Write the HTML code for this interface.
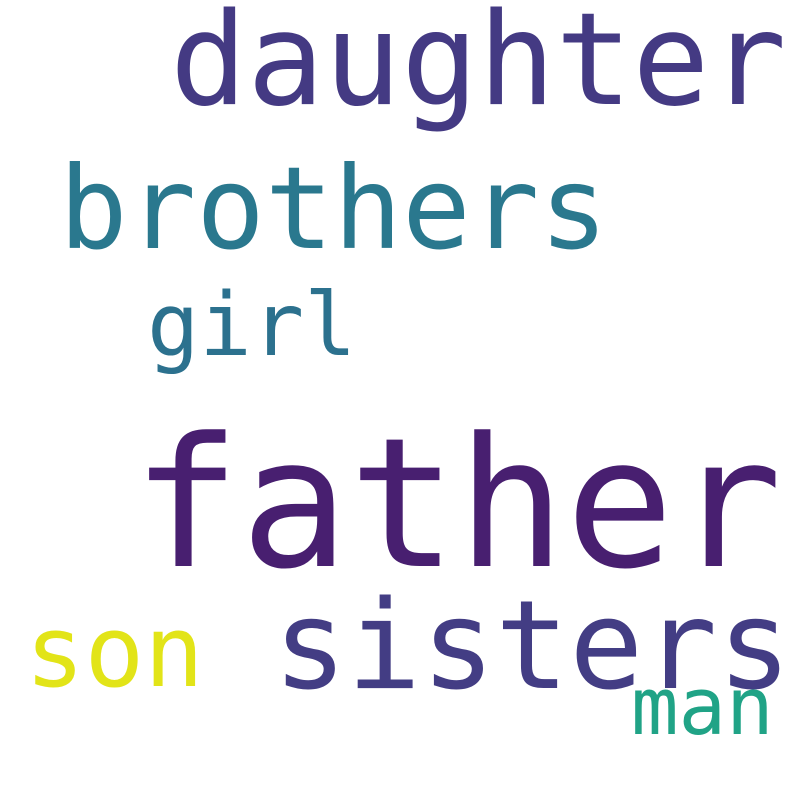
<!DOCTYPE html>
<html><head><meta charset="utf-8"><style>
html,body{margin:0;padding:0;background:#fff;}
svg{display:block;}
text{font-family:"DejaVu Sans Mono","Liberation Mono",monospace;}
</style></head><body>
<svg width="800" height="800" viewBox="0 0 800 800">
<rect width="800" height="800" fill="#fff"/>
<text x="170" y="104" font-size="128" fill="#443a83">daughter</text>
<text x="59" y="248" font-size="114" fill="#2a788e">brothers</text>
<text x="147" y="355" font-size="87" fill="#2c718e">girl</text>
<text x="132" y="566" font-size="180" fill="#481f70">father</text>
<text x="273" y="688" font-size="123" fill="#433d84">sisters</text>
<text x="25" y="686" font-size="99" fill="#e2e418">son</text>
<text x="631" y="734" font-size="79" fill="#20a386">man</text>
</svg>
</body></html>
